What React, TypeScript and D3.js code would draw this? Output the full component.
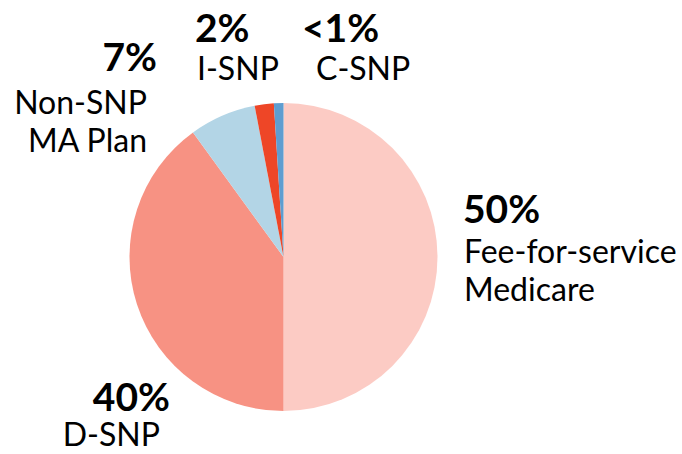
import React from "react";
import * as d3 from "d3";

const categories = ["Fee-for-service Medicare", "D-SNP", "Non-SNP MA Plan", "I-SNP", "C-SNP"];
const values = [50, 40, 7, 2, 1];
const percentLabels = ["50%", "40%", "7%", "2%", "<1%"];
const nameLines = [["Fee-for-service", "Medicare"], ["D-SNP"], ["Non-SNP", "MA Plan"], ["I-SNP"], ["C-SNP"]];
const colors = ["#fccbc4", "#f79283", "#b3d5e6", "#ee4627", "#5e9dd0"];

// label layout: [percent x, percent baseline, text-anchor, name x, first name baseline]
const labelLayout: [number, number, "start" | "end", number, number][] = [
  [463, 223, "start", 464, 263],
  [170, 411, "end", 160, 446],
  [157, 71, "end", 147, 114],
  [195, 42, "start", 197, 80],
  [302, 42, "start", 316, 80],
];

const W = 682;
const H = 454;
const cx = 283.5;
const cy = 257;
const R = 154;

export default function App() {
  const pie = d3.pie<number>().sort(null).value((d) => d);
  const arcs = pie(values);
  const arc = d3.arc<d3.PieArcDatum<number>>().innerRadius(0).outerRadius(R);
  const font = "Lato, 'Noto Sans', sans-serif";
  return (
    <svg width={W} height={H} style={{ position: "absolute", left: 0, top: 0, background: "#fff" }}>
      <g transform={`translate(${cx},${cy})`}>
        {arcs.map((a, i) => (
          <path key={categories[i]} d={arc(a) || ""} fill={colors[i]} />
        ))}
      </g>
      {labelLayout.map(([x, y, anchor, nx, ny], i) => (
        <g key={i} fontFamily={font} fill="#000">
          <text x={x} y={y} textAnchor={anchor} fontWeight={700} fontSize={39}>
            {percentLabels[i]}
          </text>
          {nameLines[i].map((line, j) => (
            <text key={j} x={nx} y={ny + j * 38} textAnchor={anchor} fontSize={32}>
              {line}
            </text>
          ))}
        </g>
      ))}
    </svg>
  );
}
